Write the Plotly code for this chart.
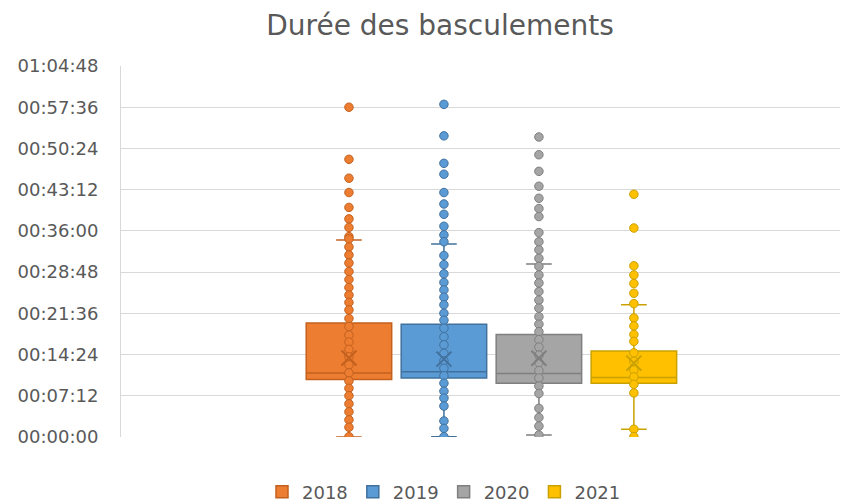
import plotly.graph_objects as go

# ---- data (minutes) ----
years = ["2018", "2019", "2020", "2021"]
q1 = [10.05, 10.3, 9.4, 9.4]
median = [11.2, 11.4, 11.1, 10.4]
q3 = [19.9, 19.7, 17.9, 15.0]
lower_whisker = [0.0, 0.05, 0.35, 1.35]
upper_whisker = [34.4, 33.7, 30.2, 23.1]
means = [13.8, 13.6, 13.75, 12.9]

points_2018 = [57.6, 48.5, 45.2, 42.7, 40.1, 38.1, 36.6, 35.0, 34.6,
               33.2, 31.8, 30.4, 28.9, 27.5, 26.1, 24.8, 23.5, 22.2, 20.7,
               19.3, 17.8, 16.6, 15.3, 14.0, 12.6, 11.2, 9.8, 8.5, 7.2,
               5.8, 4.4, 3.0, 1.7, 0.05]
points_2019 = [58.1, 52.6, 47.8, 45.9, 42.7, 40.7, 38.9, 36.8, 35.3, 34.1,
               31.7, 30.1, 28.5, 27.0, 25.7, 24.4, 23.1, 21.6, 20.4, 19.0,
               17.5, 16.1, 14.6, 13.3, 12.0, 10.7, 9.4, 8.0, 6.8, 5.4,
               2.8, 1.5, 0.05]
points_2020 = [52.4, 49.3, 46.4, 43.8, 41.7, 39.9, 38.5, 35.7, 34.1, 32.7, 31.2,
               29.8, 28.3, 26.9, 25.4, 23.9, 22.5, 21.0, 19.7, 18.4, 17.0,
               15.7, 14.3, 13.0, 11.6, 10.3, 8.9, 7.6, 5.0, 3.4, 1.9, 0.35]
points_2021 = [42.4, 36.5, 29.9, 28.3, 26.8, 25.1, 23.3,
               20.8, 19.4, 17.9, 16.7, 14.7, 13.2, 11.7, 10.5, 9.2, 7.7,
               1.35, 0.05]
all_points = [points_2018, points_2019, points_2020, points_2021]

tick_values = [0, 7.2, 14.4, 21.6, 28.8, 36.0, 43.2, 50.4, 57.6, 64.8]
tick_labels = ["00:00:00", "00:07:12", "00:14:24", "00:21:36", "00:28:48",
               "00:36:00", "00:43:12", "00:50:24", "00:57:36", "01:04:48"]

fills = ["#ED7D31", "#5B9BD5", "#A5A5A5", "#FFC000"]
edges = ["#C2611F", "#41719C", "#7F7F7F", "#C9A100"]

fig = go.Figure()
for i, yr in enumerate(years):
    fig.add_trace(go.Box(
        x=[i], q1=[q1[i]], median=[median[i]], q3=[q3[i]],
        lowerfence=[lower_whisker[i]], upperfence=[upper_whisker[i]],
        name=yr, legendgroup=yr, width=0.9, whiskerwidth=0.3,
        fillcolor=fills[i], line=dict(color=edges[i], width=1.5),
        boxpoints=False, hoverinfo="skip",
    ))
    fig.add_trace(go.Scatter(
        x=[i] * len(all_points[i]), y=all_points[i], mode="markers",
        legendgroup=yr, showlegend=False, hoverinfo="skip",
        marker=dict(size=8.5, color=fills[i], line=dict(color=edges[i], width=1)),
    ))
    fig.add_trace(go.Scatter(
        x=[i], y=[means[i]], mode="markers", legendgroup=yr, showlegend=False,
        hoverinfo="skip",
        marker=dict(symbol="x-thin", size=15, line=dict(color=edges[i], width=2)),
    ))

fig.update_layout(
    width=854, height=504,
    margin=dict(l=121, r=14, t=66, b=67, autoexpand=False),
    paper_bgcolor="white", plot_bgcolor="white",
    boxmode="overlay",
    font=dict(family="DejaVu Sans", color="#595959", size=18),
    title=dict(text="Durée des basculements", xref="paper", x=(440 - 121) / 719,
               xanchor="center", y=1 - 25 / 504, yanchor="middle",
               font=dict(family="DejaVu Sans", size=28, color="#595959")),
    showlegend=True,
    legend=dict(orientation="h", xref="paper", x=(444 - 121) / 719,
                xanchor="center", yref="container", y=12 / 504,
                yanchor="middle", font=dict(size=18, color="#595959"),
                itemwidth=30),
)
fig.update_xaxes(range=[-2.4, 5.17], showticklabels=False, showgrid=False,
                 zeroline=False, showline=False)
fig.update_yaxes(range=[0, 64.8], tickvals=tick_values, ticktext=tick_labels,
                 showgrid=True, gridcolor="#D9D9D9", gridwidth=1,
                 zeroline=False, showline=True, linecolor="#D9D9D9",
                 ticks="", ticklabelstandoff=18, automargin=False)

fig.write_html("out.html", config={"displayModeBar": False},
               post_script="document.body.style.margin='0';"
                           "document.body.style.padding='0';")
